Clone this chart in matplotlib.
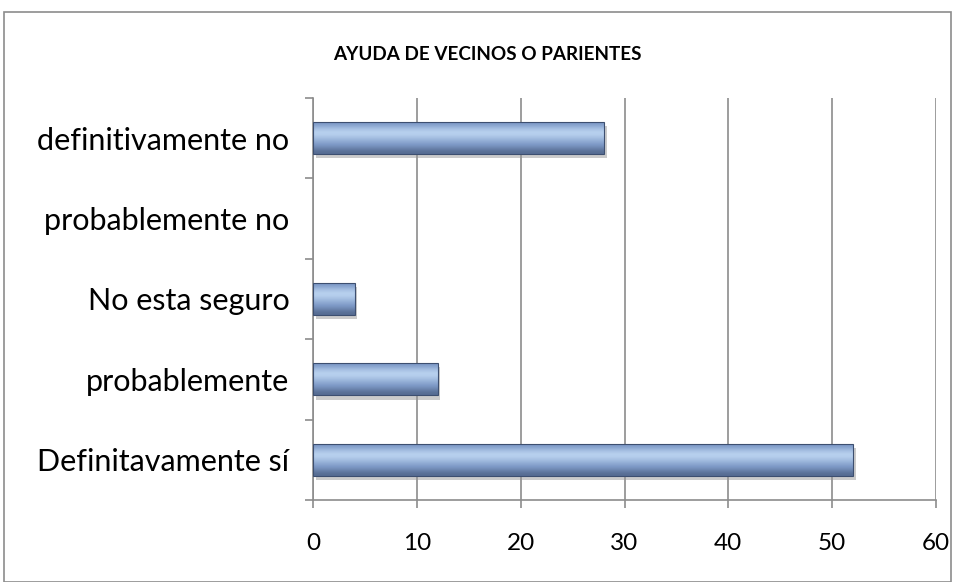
import numpy as np
import matplotlib.pyplot as plt
from matplotlib.patches import Rectangle
from matplotlib import patheffects as pe

# Datos
categorias = ['Definitavamente sí', 'probablemente', 'No esta seguro',
              'probablemente no', 'definitivamente no']
valores = [52, 12, 4, 0, 28]
ticks_x = [0, 10, 20, 30, 40, 50, 60]

plt.rcParams['font.family'] = ['Lato', 'DejaVu Sans']

fig = plt.figure(figsize=(9.57, 5.82), dpi=100)
fig.patches.append(Rectangle((4 / 957, 0), 947 / 957, 1 - 12 / 582, transform=fig.transFigure,
                             fill=False, edgecolor='#8c8c8c', linewidth=1.2))
ax = fig.add_axes([313 / 957, 1 - 500 / 582, 623 / 957, 402 / 582])

y = np.arange(len(categorias))
altura = 0.4

# Gradiente vertical (bisel estilo Excel)
grad = np.array([[0.45], [0.75], [0.95], [0.78], [0.58], [0.40], [0.15]])
cmap = plt.matplotlib.colors.LinearSegmentedColormap.from_list(
    'bisel', ['#44577a', '#7f9bc8', '#c6def8'])

barras = ax.barh(y, valores, height=altura, color='#7f9bc8', edgecolor='none', zorder=3,
                 path_effects=[pe.SimplePatchShadow(offset=(2, -3), shadow_rgbFace='#999999', alpha=0.5),
                               pe.Normal()])
for b in barras:
    if b.get_width() <= 0:
        b.set_visible(False)
        continue
    x0, y0 = b.get_x(), b.get_y()
    im = ax.imshow(grad, cmap=cmap, vmin=0, vmax=1, aspect='auto', interpolation='bicubic',
                   extent=[x0, x0 + b.get_width(), y0, y0 + b.get_height()], zorder=4)
    im.set_clip_path(b)
    ax.add_patch(Rectangle((x0, y0), b.get_width(), b.get_height(), fill=False,
                           edgecolor='#3d4f70', linewidth=0.8, zorder=5))

ax.set_xlim(0, 60)
ax.set_ylim(-0.5, len(categorias) - 0.5)
ax.set_xticks(ticks_x)
ax.set_xticklabels([str(t) for t in ticks_x], fontsize=17.5)
ax.grid(axis='x', color='#8c8c8c', linewidth=1.2, zorder=0)
ax.set_axisbelow(True)

ax.set_yticks(np.arange(-0.5, len(categorias), 1))
ax.set_yticklabels([])
ax.set_yticks(y, minor=True)
ax.set_yticklabels(categorias, minor=True, fontsize=22)
ax.tick_params(axis='y', which='major', length=6, color='#8c8c8c', width=1.2, direction='out')
ax.tick_params(axis='y', which='minor', length=0, pad=17)
ax.tick_params(axis='x', length=6, color='#8c8c8c', width=1.2, pad=18)

for s in ['top', 'right']:
    ax.spines[s].set_visible(False)
for s in ['left', 'bottom']:
    ax.spines[s].set_color('#8c8c8c')
    ax.spines[s].set_linewidth(1.2)

fig.text(487 / 957, 1 - 55 / 582, 'AYUDA DE VECINOS O PARIENTES', ha='center', va='center',
         fontsize=13.6, fontweight='bold')

plt.savefig('out.png', dpi=100)
